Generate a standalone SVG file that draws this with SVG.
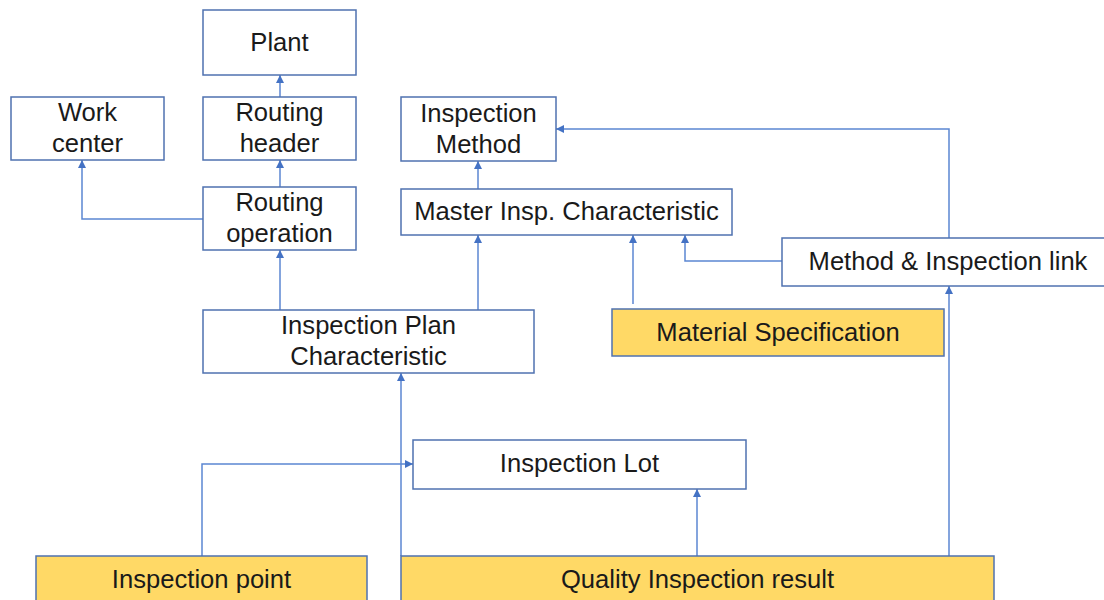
<svg xmlns="http://www.w3.org/2000/svg" width="1104" height="600" viewBox="0 0 1104 600">
  <style>
    .box { fill: #ffffff; stroke: #4f72b0; stroke-width: 1.5; }
    .hl { fill: #ffd966; stroke: #4f72b0; stroke-width: 1.5; }
    .lbl { font-family: "Liberation Sans", Arial, sans-serif; font-size: 25.6px; fill: #1a1a1a; text-anchor: middle; }
    .conn { fill: none; stroke: #5b86d2; stroke-width: 1.5; marker-end: url(#arrow); }
  </style>
  <defs>
    <marker id="arrow" markerUnits="userSpaceOnUse" markerWidth="9" markerHeight="9" refX="8" refY="4" orient="auto">
      <path d="M0,0 L8,4 L0,8 z" fill="#4472c4"/>
    </marker>
  </defs>
  <rect width="1104" height="600" fill="#ffffff"/>

  <g id="connectors">
    <path class="conn" d="M280,97 L280,75"/>
    <path class="conn" d="M280,187 L280,160"/>
    <path class="conn" d="M203,219 L82,219 L82,160"/>
    <path class="conn" d="M280,310 L280,250"/>
    <path class="conn" d="M478,310 L478,235"/>
    <path class="conn" d="M478,189 L478,161"/>
    <path class="conn" d="M633,304 L633,235"/>
    <path class="conn" d="M782,261 L685,261 L685,235"/>
    <path class="conn" d="M949,238 L949,129 L556,129"/>
    <path class="conn" d="M949,556 L949,286"/>
    <path class="conn" d="M697,556 L697,489"/>
    <path class="conn" d="M401,556 L401,373"/>
    <path class="conn" d="M202,556 L202,464 L413,464"/>
  </g>

  <g id="plant">
    <rect class="box" x="203" y="10" width="153" height="65"/>
    <text class="lbl" x="279.5" y="50.5">Plant</text>
  </g>
  <g id="work-center">
    <rect class="box" x="11" y="97" width="153" height="63"/>
    <text class="lbl" x="87.5" y="121">Work</text>
    <text class="lbl" x="87.5" y="152">center</text>
  </g>
  <g id="routing-header">
    <rect class="box" x="203" y="97" width="153" height="63"/>
    <text class="lbl" x="279.5" y="121">Routing</text>
    <text class="lbl" x="279.5" y="152">header</text>
  </g>
  <g id="routing-operation">
    <rect class="box" x="203" y="187" width="153" height="63"/>
    <text class="lbl" x="279.5" y="211">Routing</text>
    <text class="lbl" x="279.5" y="242">operation</text>
  </g>
  <g id="inspection-method">
    <rect class="box" x="401" y="97" width="155" height="64"/>
    <text class="lbl" x="478.5" y="122">Inspection</text>
    <text class="lbl" x="478.5" y="153">Method</text>
  </g>
  <g id="master-insp-characteristic">
    <rect class="box" x="401" y="189" width="331" height="46"/>
    <text class="lbl" x="566.5" y="220">Master Insp. Characteristic</text>
  </g>
  <g id="method-inspection-link">
    <rect class="box" x="782" y="238" width="332" height="48"/>
    <text class="lbl" x="948" y="270">Method &amp; Inspection link</text>
  </g>
  <g id="material-specification">
    <rect class="hl" x="612" y="309" width="332" height="47"/>
    <text class="lbl" x="778" y="340.5">Material Specification</text>
  </g>
  <g id="inspection-plan-characteristic">
    <rect class="box" x="203" y="310" width="331" height="63"/>
    <text class="lbl" x="368.5" y="334">Inspection Plan</text>
    <text class="lbl" x="368.5" y="365">Characteristic</text>
  </g>
  <g id="inspection-lot">
    <rect class="box" x="413" y="440" width="333" height="49"/>
    <text class="lbl" x="579.5" y="472">Inspection Lot</text>
  </g>
  <g id="inspection-point">
    <rect class="hl" x="36" y="556" width="331" height="54"/>
    <text class="lbl" x="201.5" y="588">Inspection point</text>
  </g>
  <g id="quality-inspection-result">
    <rect class="hl" x="401" y="556" width="593" height="54"/>
    <text class="lbl" x="697.5" y="588">Quality Inspection result</text>
  </g>
</svg>
